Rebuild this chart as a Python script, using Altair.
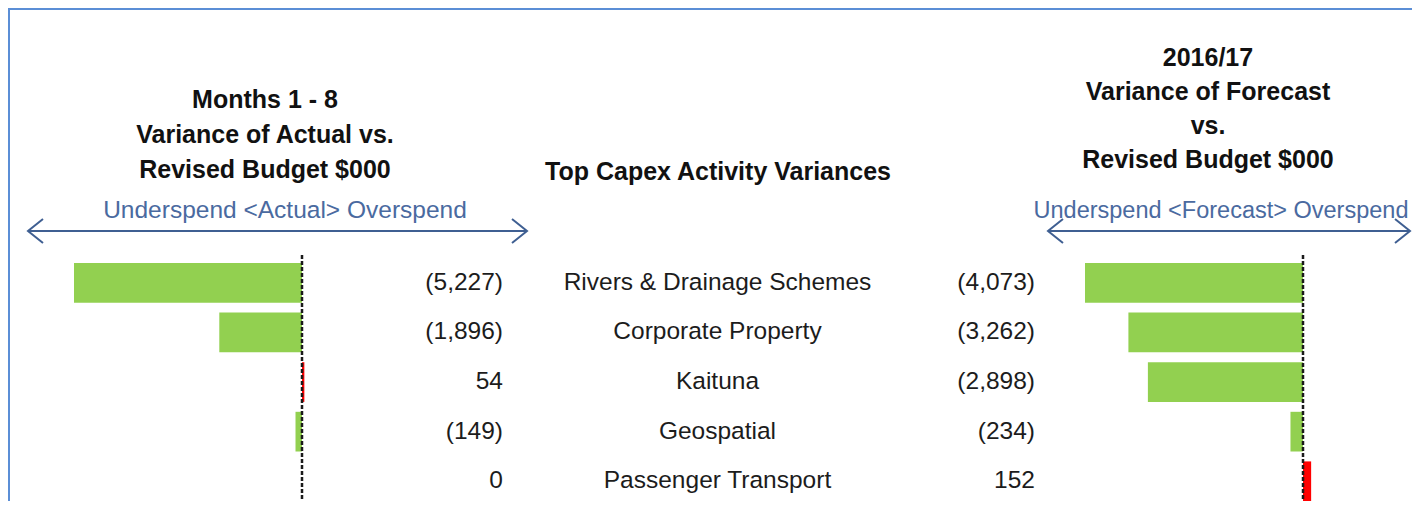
import altair as alt
import pandas as pd

# ---- data ----
categories = ["Rivers & Drainage Schemes", "Corporate Property", "Kaituna", "Geospatial", "Passenger Transport"]
actual = [-5227, -1896, 54, -149, 0]
forecast = [-4073, -3262, -2898, -234, 152]
actual_labels = ["(5,227)", "(1,896)", "54", "(149)", "0"]
forecast_labels = ["(4,073)", "(3,262)", "(2,898)", "(234)", "152"]

df = pd.DataFrame({
    "cat": categories,
    "actual": actual,
    "forecast": forecast,
    "actual_label": actual_labels,
    "forecast_label": forecast_labels,
})

FONT = "Liberation Sans, Arial, sans-serif"
GREEN = "#92d050"
RED = "#ff0000"
BLUE_TXT = "#4a6aa0"
ARROW = "#3f5f92"
BORDER = "#5b8ed6"

W, H = 1404, 493

yscale = alt.Scale(domain=categories, range=[255, 493.1], paddingInner=0.2, paddingOuter=0)
Y = alt.Y("cat:N", scale=yscale, axis=None, sort=categories)

left_x = alt.Scale(domain=[-5227, 0], range=[66, 294], zero=False, nice=False)
right_x = alt.Scale(domain=[-4073, 0], range=[1077, 1295], zero=False, nice=False)

base = alt.Chart(df)

color_rule = lambda f: alt.condition(f"datum.{f} > 0", alt.value(RED), alt.value(GREEN))

left_bars = base.mark_bar(size=39.7).encode(
    x=alt.X("actual:Q", scale=left_x, axis=None),
    x2=alt.datum(0),
    y=Y,
    color=color_rule("actual"),
)
right_bars = base.mark_bar(size=39.7).encode(
    x=alt.X("forecast:Q", scale=right_x, axis=None),
    x2=alt.datum(0),
    y=Y,
    color=color_rule("forecast"),
)

zero_df = pd.DataFrame({"z": [0]})
left_zero = alt.Chart(zero_df).mark_rule(color="#1a1a1a", strokeWidth=2.5, strokeDash=[4, 2]).encode(
    x=alt.X("z:Q", scale=left_x, axis=None), y=alt.value(247), y2=alt.value(H)
)
right_zero = alt.Chart(zero_df).mark_rule(color="#1a1a1a", strokeWidth=2.5, strokeDash=[4, 2]).encode(
    x=alt.X("z:Q", scale=right_x, axis=None), y=alt.value(247), y2=alt.value(H)
)

lab_kw = dict(font=FONT, fontSize=24.5, color="#1c1c1c", baseline="middle")
left_vals = base.mark_text(align="right", **lab_kw).encode(
    x=alt.value(495), y=Y, text="actual_label:N")
cat_text = base.mark_text(align="center", **lab_kw).encode(
    x=alt.value(709.5), y=Y, text="cat:N")
right_vals = base.mark_text(align="right", **lab_kw).encode(
    x=alt.value(1027), y=Y, text="forecast_label:N")


def text_line(s, x, y, size=25, bold=True, color="#111111"):
    return alt.Chart(zero_df).mark_text(
        text=s, font=FONT, fontSize=size, fontWeight="bold" if bold else "normal",
        color=color, align="center", baseline="alphabetic",
    ).encode(x=alt.value(x), y=alt.value(y))


titles = [
    text_line("Months 1 - 8", 257, 100),
    text_line("Variance of Actual vs.", 257, 135),
    text_line("Revised Budget $000", 257, 170),
    text_line("Top Capex Activity Variances", 710, 172),
    text_line("2016/17", 1200, 58),
    text_line("Variance of Forecast", 1200, 92),
    text_line("vs.", 1200, 126),
    text_line("Revised Budget $000", 1200, 160),
    text_line("Underspend  <Actual> Overspend", 277, 210, size=24.5, bold=False, color=BLUE_TXT),
    text_line("Underspend <Forecast> Overspend", 1213, 210, size=23.5, bold=False, color=BLUE_TXT),
]


def arrow(x1, x2, y):
    shaft = alt.Chart(zero_df).mark_rule(color=ARROW, strokeWidth=2).encode(
        x=alt.value(x1), x2=alt.value(x2), y=alt.value(y))
    lhead = alt.Chart(zero_df).mark_point(
        shape="M1,-1.6L-1,0L1,1.6", size=225, filled=False, stroke=ARROW, strokeWidth=2, opacity=1
    ).encode(x=alt.value(x1 + 7.5), y=alt.value(y))
    rhead = alt.Chart(zero_df).mark_point(
        shape="M-1,-1.6L1,0L-1,1.6", size=225, filled=False, stroke=ARROW, strokeWidth=2, opacity=1
    ).encode(x=alt.value(x2 - 7.5), y=alt.value(y))
    return [shaft, lhead, rhead]


arrows = arrow(20, 519, 223) + arrow(1040, 1402, 223)

border = [
    alt.Chart(zero_df).mark_rule(color=BORDER, strokeWidth=2).encode(
        x=alt.value(0), x2=alt.value(W), y=alt.value(1)),
    alt.Chart(zero_df).mark_rule(color=BORDER, strokeWidth=2).encode(
        x=alt.value(1), y=alt.value(0), y2=alt.value(H)),
]

chart = alt.layer(
    *border, left_bars, right_bars, left_zero, right_zero,
    left_vals, cat_text, right_vals, *titles, *arrows,
).resolve_scale(x="independent").properties(
    width=W, height=H, padding=0, autosize=alt.AutoSizeParams(type="none")
).configure_view(stroke=None)

chart.save("out.html", embed_options={"renderer": "svg", "actions": False})
